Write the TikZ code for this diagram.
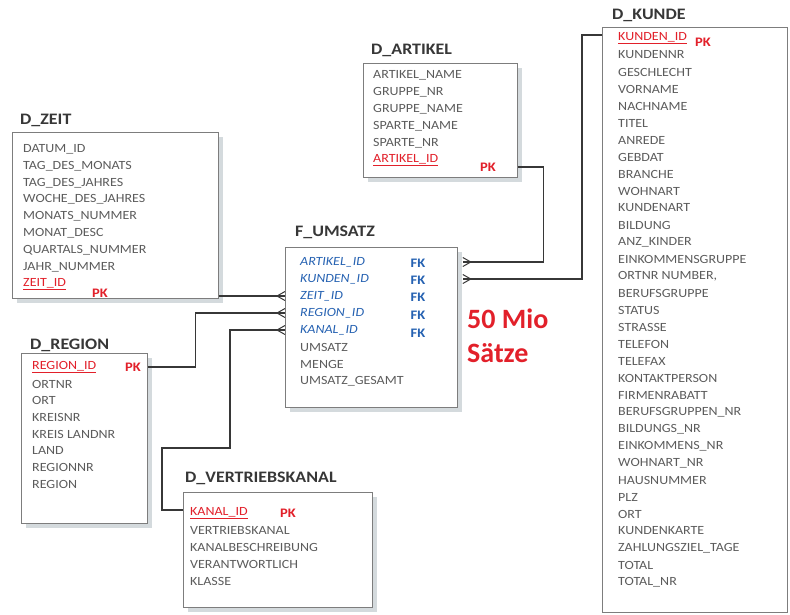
\documentclass[tikz,border=0pt]{standalone}
\usepackage{fontspec}
\setmainfont{Carlito}[FakeStretch=1.12]
\newfontfamily\bigfont{Carlito}
\usetikzlibrary{shadows,calc}

\definecolor{txtgray}{RGB}{92,92,92}
\definecolor{ttlgray}{RGB}{55,55,55}
\definecolor{boxgray}{RGB}{125,125,125}
\definecolor{shadowcol}{RGB}{212,218,221}
\definecolor{pkred}{RGB}{226,32,42}
\definecolor{fkblue}{RGB}{38,98,178}
\definecolor{linkgray}{RGB}{55,55,55}

\tikzset{
  tbl/.style={draw=boxgray, line width=0.8pt, fill=white, anchor=north west,
    inner sep=0pt, drop shadow={shadow xshift=5pt, shadow yshift=-5pt,
    fill=shadowcol, opacity=1}},
  plainbox/.style={draw=boxgray, line width=0.8pt, fill=white, anchor=north west, inner sep=0pt},
  rowtxt/.style={anchor=west, inner sep=0pt, text=txtgray,
    font=\fontsize{12.5}{14}\selectfont},
  keytxt/.style={rowtxt, text=pkred},
  fktxt/.style={rowtxt, text=fkblue, font=\fontsize{12.5}{14}\selectfont\itshape},
  ttl/.style={anchor=west, inner sep=0pt, text=ttlgray,
    font=\fontsize{16}{18}\selectfont\bfseries},
  pk/.style={inner sep=0pt, text=pkred, font=\fontsize{13}{14}\selectfont\bfseries},
  fk/.style={inner sep=0pt, text=fkblue, font=\fontsize{13}{14}\selectfont\bfseries},
  link/.style={draw=linkgray, line width=1.3pt},
  crowleft/.pic={\draw[link, line width=1pt] (-8,0) -- (0,-4.5) (-8,0) -- (0,4.5);},
  crowright/.pic={\draw[link, line width=1pt] (8,0) -- (0,-4.5) (8,0) -- (0,4.5);}
}

\begin{document}
\begin{tikzpicture}[x=1pt,y=-1pt]
\useasboundingbox (0,0) rectangle (790,614);

% ---------------- D_ZEIT
\node[ttl] (zeit-t) at (20,120) {D\_ZEIT};
\node[tbl, minimum width=206pt, minimum height=166pt] (zeit) at (12,132) {};
\foreach \t [count=\i] in {DATUM\_ID, TAG\_DES\_MONATS, TAG\_DES\_JAHRES,
    WOCHE\_DES\_JAHRES, MONATS\_NUMMER, MONAT\_DESC, QUARTALS\_NUMMER, JAHR\_NUMMER}
  \node[rowtxt] (zeit-\i) at (23,{149+16.9*(\i-1)}) {\t};
\node[keytxt] (zeit-id) at (23,284) {\underline{ZEIT\_ID}};
\node[pk] (zeit-pk) at (100,293) {PK};

% ---------------- D_ARTIKEL
\node[ttl] (art-t) at (371,50) {D\_ARTIKEL};
\node[tbl, minimum width=154pt, minimum height=114pt] (artikel) at (363,63) {};
\foreach \t [count=\i] in {ARTIKEL\_NAME, GRUPPE\_NR, GRUPPE\_NAME, SPARTE\_NAME, SPARTE\_NR}
  \node[rowtxt] (art-\i) at (373,{75+17*(\i-1)}) {\t};
\node[keytxt] (art-id) at (373,160) {\underline{ARTIKEL\_ID}};
\node[pk] (art-pk) at (488,167) {PK};

% ---------------- F_UMSATZ
\node[ttl] (ums-t) at (295,232) {F\_UMSATZ};
\node[tbl, minimum width=172pt, minimum height=160pt] (umsatz) at (285,247) {};
\node[fktxt] (u-art) at (300,262) {ARTIKEL\_ID};
\node[fktxt] (u-kun) at (300,279) {KUNDEN\_ID};
\node[fktxt] (u-zeit) at (300,296) {ZEIT\_ID};
\node[fktxt] (u-reg) at (300,313) {REGION\_ID};
\node[fktxt] (u-kan) at (300,330) {KANAL\_ID};
\node[rowtxt] (u-ums) at (300,347) {UMSATZ};
\node[rowtxt] (u-men) at (300,364) {MENGE};
\node[rowtxt] (u-ges) at (300,381) {UMSATZ\_GESAMT};
\node[fk] (fk-1) at (418,263) {FK};
\node[fk] (fk-2) at (418,280) {FK};
\node[fk] (fk-3) at (418,297.5) {FK};
\node[fk] (fk-4) at (418,315) {FK};
\node[fk] (fk-5) at (418,333) {FK};
\node[text=pkred, font=\bigfont\fontsize{28}{34}\selectfont\bfseries, anchor=west, inner sep=0pt]
  (mio) at (467,319) {50 Mio};
\node[text=pkred, font=\bigfont\fontsize{28}{34}\selectfont\bfseries, anchor=west, inner sep=0pt]
  (saetze) at (467,353) {Sätze};

% ---------------- D_REGION
\node[ttl] (reg-t) at (30,345) {D\_REGION};
\node[tbl, minimum width=126pt, minimum height=170pt] (region) at (21,353) {};
\node[keytxt] (reg-id) at (32,367) {\underline{REGION\_ID}};
\node[pk] (reg-pk) at (133,367) {PK};
\foreach \t [count=\i] in {ORTNR, ORT, KREISNR, KREIS LANDNR, LAND, REGIONNR, REGION}
  \node[rowtxt] (reg-\i) at (32,{384+16.7*(\i-1)}) {\t};

% ---------------- D_VERTRIEBSKANAL
\node[ttl] (kan-t) at (185,478) {D\_VERTRIEBSKANAL};
\node[tbl, minimum width=189pt, minimum height=115pt] (kanal) at (183,492) {};
\node[keytxt] (kan-id) at (190,513) {\underline{KANAL\_ID}};
\node[pk] (kan-pk) at (288,513) {PK};
\foreach \t [count=\i] in {VERTRIEBSKANAL, KANALBESCHREIBUNG, VERANTWORTLICH, KLASSE}
  \node[rowtxt] (kan-\i) at (190,{530+17*(\i-1)}) {\t};

% ---------------- D_KUNDE
\node[ttl] (kun-t) at (612,15) {D\_KUNDE};
\node[plainbox, minimum width=185pt, minimum height=585pt] (kunde) at (602,27) {};
\node[keytxt] (kun-id) at (618,38) {\underline{KUNDEN\_ID}};
\node[pk] (kun-pk) at (703,42) {PK};
\foreach \t [count=\i] in {KUNDENNR, GESCHLECHT, VORNAME, NACHNAME, TITEL, ANREDE,
    GEBDAT, BRANCHE, WOHNART, KUNDENART, BILDUNG, ANZ\_KINDER, EINKOMMENSGRUPPE,
    {ORTNR NUMBER,}, BERUFSGRUPPE, STATUS, STRASSE, TELEFON, TELEFAX, KONTAKTPERSON,
    FIRMENRABATT, BERUFSGRUPPEN\_NR, BILDUNGS\_NR, EINKOMMENS\_NR, WOHNART\_NR,
    HAUSNUMMER, PLZ, ORT, KUNDENKARTE, ZAHLUNGSZIEL\_TAGE, TOTAL, TOTAL\_NR}
  \node[rowtxt] (kun-\i) at (618,{55+17*(\i-1)}) {\t};

% ---------------- relationships (many side at F_UMSATZ)
\coordinate (ua) at ($(umsatz.east |- u-art)+(5,0)$);
\coordinate (uk) at ($(umsatz.east |- u-kun)+(5,0)$);
\draw[link] (artikel.east |- art-pk) -- ++(26,0) |- (ua);
\pic at (ua) {crowright};
\draw[link] ($(kunde.west |- kun-id)+(0,-3)$) -- ++(-20,0) |- (uk);
\pic at (uk) {crowright};

\coordinate (uz) at (umsatz.west |- u-zeit);
\coordinate (ur) at (umsatz.west |- u-reg);
\coordinate (uc) at (umsatz.west |- u-kan);
\draw[link] (zeit.east |- u-zeit) -- (uz);
\pic at (uz) {crowleft};
\draw[link] (region.east |- reg-id) -- ++(48,0) |- (ur);
\pic at (ur) {crowleft};
\draw[link] ($(kanal.west |- kan-id)+(0,-3)$) -- ++(-21,0) -- ++(0,-62) -- ++(68,0) |- (uc);
\pic at (uc) {crowleft};
\end{tikzpicture}
\end{document}
